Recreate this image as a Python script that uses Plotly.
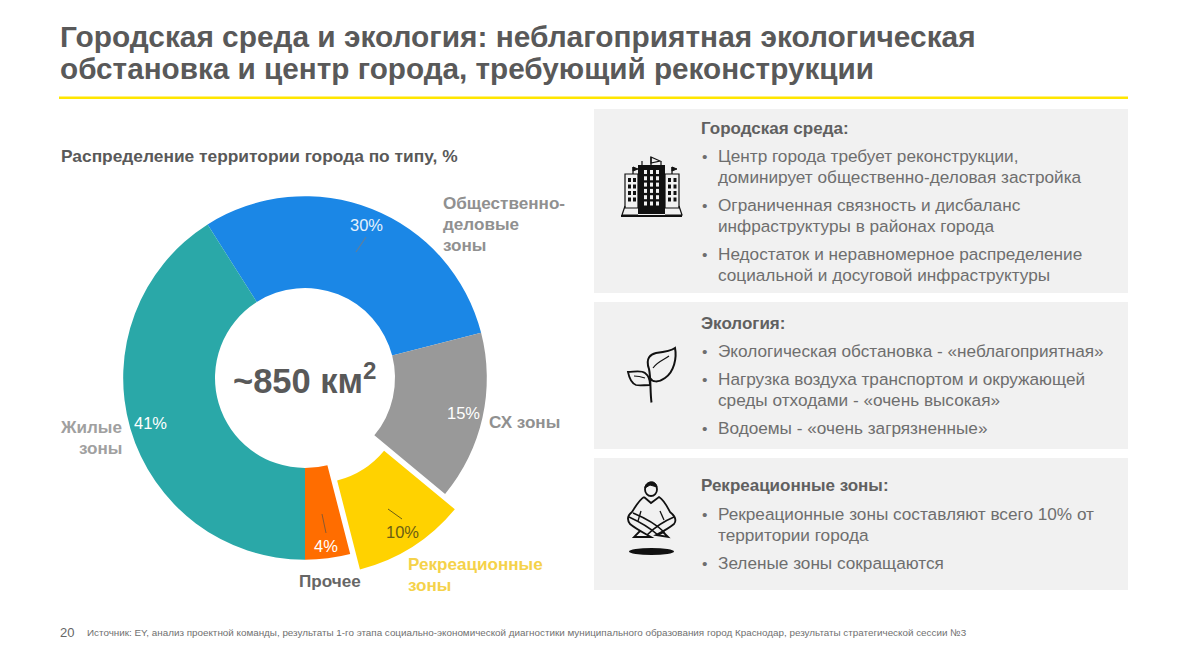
import re
import plotly.graph_objects as go

W, H = 1186, 667
FONT = "Liberation Sans"

zones = ["Общественно-деловые зоны", "СХ зоны", "Рекреационные зоны", "Прочее", "Жилые зоны"]
shares = [30, 15, 10, 4, 41]
colors = ["#1B87E6", "#999999", "#FFD200", "#FF6D00", "#2AA8A8"]
pulls = [0, 0, 0.1, 0, 0]

title_lines = ["Городская среда и экология: неблагоприятная экологическая",
               "обстановка и центр города, требующий реконструкции"]
subtitle = "Распределение территории города по типу, %"
center_text = "~850 км<sup>2</sup>"
source = ("Источник: EY, анализ проектной команды, результаты 1-го этапа социально-экономической "
          "диагностики муниципального образования город Краснодар, результаты стратегической сессии №3")

# (text, x, y, size, colour, bold, anchor)
GREY = "#666666"
LIGHT = "#909090"
LS = 17.1
labels = [
    ("Общественно-", 442, 203, LS, LIGHT, True, "left"),
    ("деловые", 442, 224, LS, LIGHT, True, "left"),
    ("зоны", 442, 245, LS, LIGHT, True, "left"),
    ("СХ зоны", 488, 422, LS, LIGHT, True, "left"),
    ("Жилые", 123, 427, LS, "#A0A0A0", True, "right"),
    ("зоны", 123, 448, LS, "#A0A0A0", True, "right"),
    ("Прочее", 298, 581, LS, GREY, True, "left"),
    ("Рекреационные", 407, 564, LS, "#F5D24A", True, "left"),
    ("зоны", 407, 585, LS, "#F5D24A", True, "left"),
]
pct_pos = [(366, 225, "#E4F1FC"), (463, 413, "#FFFFFF"), (402, 532, "#6B5E14"), (326, 546, "#FFFFFF"), (150, 423, "#FFFFFF")]

panels = [(594, 109, 1128, 293), (594, 302, 1128, 449), (594, 458, 1128, 590)]
panel_text = [
    ("Городская среда:", 128, [("Центр города требует реконструкции,", 156, True),
                               ("доминирует общественно-деловая застройка", 177, False),
                               ("Ограниченная связность и дисбаланс", 205, True),
                               ("инфраструктуры в районах города", 226, False),
                               ("Недостаток и неравномерное распределение", 254, True),
                               ("социальной и досуговой инфраструктуры", 275, False)]),
    ("Экология:", 323, [("Экологическая обстановка - «неблагоприятная»", 351, True),
                        ("Нагрузка воздуха транспортом и окружающей", 379, True),
                        ("среды отходами - «очень высокая»", 400, False),
                        ("Водоемы - «очень загрязненные»", 428, True)]),
    ("Рекреационные зоны:", 485, [("Рекреационные зоны составляют всего 10% от", 514, True),
                                  ("территории города", 535, False),
                                  ("Зеленые зоны сокращаются", 563, True)]),
]

def px(x): return x / W
def py(y): return 1 - y / H

def path(d):
    toks = re.findall(r"[MLCQZ]|-?\d+\.?\d*", d)
    out, i = [], 0
    for t in toks:
        if t.isalpha():
            out.append(t); i = 0
        else:
            out.append(f"{px(float(t)):.5f}" if i % 2 == 0 else f"{py(float(t)):.5f}")
            i += 1
    return " ".join(out)

shapes = []
def rect(x0, y0, x1, y1, fill, layer="below"):
    shapes.append(dict(type="rect", xref="paper", yref="paper", x0=px(x0), x1=px(x1), y0=py(y0), y1=py(y1),
                       fillcolor=fill, line_width=0, layer=layer))
def line(x0, y0, x1, y1, color, w=1):
    shapes.append(dict(type="line", xref="paper", yref="paper", x0=px(x0), x1=px(x1), y0=py(y0), y1=py(y1),
                       line=dict(color=color, width=w), layer="above"))
def svg(d, fill="rgba(0,0,0,0)", color="#111111", w=1.6):
    shapes.append(dict(type="path", xref="paper", yref="paper", path=path(d), fillcolor=fill,
                       line=dict(color=color, width=w), layer="above"))

rect(59, 96.5, 1128, 99, "#FFE600")
for p in panels:
    rect(*p, "#F1F1F1")

# leader lines
line(366, 237, 356, 252, "#5F7E9C", 1.2)
line(388, 509, 402, 519, "#6B5E14")
line(322, 514, 326, 533, "#8A5A30")

# building icon
rect(638, 165, 665, 214, "#111111", "above")
svg("M 625 174 L 638 174 L 638 208 L 625 208 Z", w=1.2)
svg("M 665 174 L 679 174 L 679 208 L 665 208 Z", w=1.2)
svg("M 625 206 L 622 215 L 638 215", w=1.2)
svg("M 679 206 L 682 215 L 665 215", w=1.2)
line(621, 216, 682, 216, "#111111", 1.8)
for r in range(6):
    for c in range(3):
        rect(644 + c * 6, 170 + r * 6.3, 647 + c * 6, 174 + r * 6.3, "#F1F1F1", "above")
for r in range(4):
    for c in range(2):
        rect(628 + c * 5, 178 + r * 6.5, 631 + c * 5, 182 + r * 6.5, "#111111", "above")
        rect(668 + c * 5.5, 178 + r * 6.5, 671 + c * 5.5, 182 + r * 6.5, "#111111", "above")
line(651, 165, 651, 157, "#111111", 1.3)
svg("M 651 157 L 660 161 L 651 163 Z", w=1.2)
for fx in (633, 672):
    line(fx, 174, fx, 167, "#111111", 1.3)
    svg(f"M {fx} 167 L {fx + 5} 169 L {fx} 171 Z", fill="#111111", w=1)
for fx in (642, 661):
    line(fx, 165, fx, 161, "#111111", 1.2)

# plant icon
svg("M 651.5 402.5 C 650 392 651 378 649 369 C 645 358 651 354 656 353 C 664 352 671 351 675 348 "
    "C 677 358 674 372 665 378 C 658 383 652 382 650 378", w=2)
svg("M 653 368 C 658 361 664 360 669 356", w=1.2)
svg("M 650 385 C 644 385 640 386 636 385 C 631 383 629 377 628 372 C 634 372 641 370 645 373 C 649 376 650 381 650 385 Z", w=1.8)
svg("M 634 376 C 638 376 642 377 645 378", w=1.1)

# person icon
shapes.append(dict(type="circle", xref="paper", yref="paper", x0=px(645), x1=px(657), y0=py(496), y1=py(483),
                   fillcolor="rgba(0,0,0,0)", line=dict(color="#111111", width=1.8), layer="above"))
svg("M 645 488 C 645 481 656 479 657 487 L 650 485 Z", fill="#111111", w=1)
svg("M 644 497 L 651 503 L 659 497 C 664 500 667 506 670 512 C 675 516 677 520 674 524 "
    "C 668 529 662 532 656 535 L 668 537 L 662 531", w=1.8)
svg("M 644 497 C 639 500 636 506 632 512 C 627 516 627 520 630 524 C 636 529 644 533 651 537 L 634 537 L 640 531", w=1.8)
svg("M 629 517 C 640 522 650 528 658 535 L 664 532 C 656 524 645 518 633 513", w=1.6)
svg("M 674 517 C 662 522 654 528 647 535", w=1.6)
svg("M 641 511 L 638 521", w=1.3)
svg("M 660 511 L 664 520", w=1.3)
shapes.append(dict(type="circle", xref="paper", yref="paper", x0=px(629), x1=px(674), y0=py(555), y1=py(548),
                   fillcolor="#111111", line_width=0, layer="above"))

annots = []
def text(t, x, y, size, color, bold=False, anchor="left"):
    annots.append(dict(text=t, x=px(x), y=py(y), xref="paper", yref="paper", xanchor=anchor, yanchor="middle",
                       showarrow=False, align=anchor, borderpad=0,
                       font=dict(family=FONT, size=size, color=color, weight=700 if bold else 400)))

text(title_lines[0], 59, 37, 29.85, "#595959", True)
text(title_lines[1], 59, 68, 29.7, "#595959", True)
text(subtitle, 60, 156, 17.35, "#595959", True)
text(center_text, 305, 378, 34.5, "#595959", True, "center")
for t, x, y, s, c, b, a in labels:
    text(t, x, y, s, c, b, a)
for v, (x, y, c) in zip(shares, pct_pos):
    text(f"{v}%", x, y, 16.5, c, False, "center")
for head, hy, items in panel_text:
    text(head, 700, hy, 17, "#606060", True)
    for t, y, bullet in items:
        text(t, 717, y, 17.2, "#6E6E6E")
        if bullet:
            text("•", 701, y, 15.5, "#6E6E6E")
text("20", 59, 632, 13, "#666666")
text(source, 86, 632, 9.85, "#707070")

fig = go.Figure(go.Pie(
    labels=zones, values=shares, sort=False, direction="clockwise", rotation=327.6,
    hole=0.495, pull=pulls, marker=dict(colors=colors, line=dict(width=0)), textinfo="none",
    showlegend=False, hoverinfo="label+percent",
    domain=dict(x=[px(105), px(505)], y=[py(578), py(178)]),
))
fig.update_layout(width=W, height=H, margin=dict(l=0, r=0, t=0, b=0), paper_bgcolor="white",
                  shapes=shapes, annotations=annots, font=dict(family=FONT))
fig.write_html("out.html", config=dict(displayModeBar=False),
               post_script="document.body.style.margin='0';document.body.style.overflow='hidden';")
